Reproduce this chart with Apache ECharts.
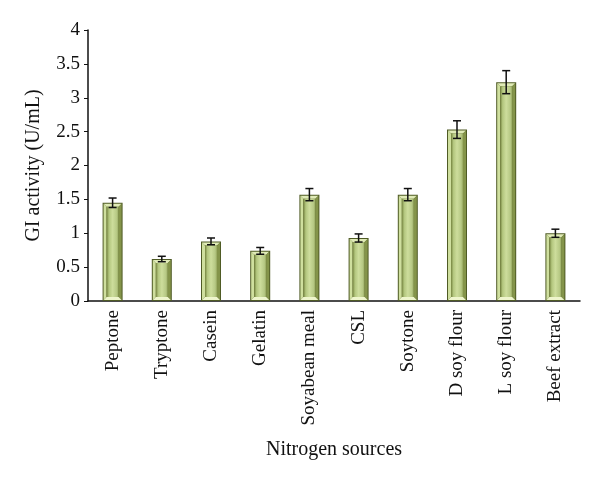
<!DOCTYPE html>
<html>
<head>
<meta charset="utf-8">
<script src="https://cdn.jsdelivr.net/npm/echarts@6/dist/echarts.min.js"></script>
<style>
  html, body { margin: 0; padding: 0; background: #fff; }
  #chart { width: 600px; height: 479px; }
</style>
</head>
<body>
<div id="chart"></div>
<script>
// categories on the x axis
var categories = [
  "Peptone", "Tryptone", "Casein", "Gelatin", "Soyabean meal",
  "CSL", "Soytone", "D soy flour", "L soy flour", "Beef extract"
];
// GI activity (U/mL)
var activity = [1.45, 0.62, 0.88, 0.74, 1.57, 0.93, 1.57, 2.53, 3.23, 1.00];
// error (+/-)
var errors = [0.07, 0.04, 0.05, 0.05, 0.09, 0.06, 0.09, 0.13, 0.17, 0.06];

var FONT = "Liberation Serif";

// bevelled bar drawn through the axes
function renderBar(params, api) {
  var top = api.coord([api.value(0), api.value(1)]);
  var base = api.coord([api.value(0), 0]);
  var w = 20, bv = 4;
  var l = top[0] - w / 2, r = top[0] + w / 2, t = top[1], b = base[1];
  var h = b - t;
  return {
    type: "group",
    children: [
      { type: "rect", shape: { x: l, y: t, width: w, height: h }, style: { fill: "#4f5b25" } },
      { type: "polygon", shape: { points: [[l + 1, t + 1], [l + bv, t + bv], [l + bv, b - bv], [l + 1, b - 1]] }, style: { fill: "#cfdf9e" } },
      { type: "polygon", shape: { points: [[l + 1, t + 1], [r - 1, t + 1], [r - bv, t + bv], [l + bv, t + bv]] }, style: { fill: "#e0ebb7" } },
      { type: "polygon", shape: { points: [[r - 1, t + 1], [r - 1, b - 1], [r - bv, b - bv], [r - bv, t + bv]] }, style: { fill: "#84944a" } },
      { type: "polygon", shape: { points: [[l + 1, b - 1], [r - 1, b - 1], [r - bv, b - bv], [l + bv, b - bv]] }, style: { fill: "#eef5cc" } },
      {
        type: "rect",
        shape: { x: l + bv, y: t + bv, width: w - 2 * bv, height: Math.max(h - 2 * bv, 0) },
        style: {
          fill: new echarts.graphic.LinearGradient(0, 0, 1, 0, [
            { offset: 0, color: "#75843f" },
            { offset: 0.2, color: "#b3c67e" },
            { offset: 0.5, color: "#cddd9c" },
            { offset: 0.85, color: "#b6c884" },
            { offset: 1, color: "#94a55c" }
          ])
        }
      }
    ]
  };
}

// error bars
function renderError(params, api) {
  var hi = api.coord([api.value(0), api.value(1) + api.value(2)]);
  var lo = api.coord([api.value(0), api.value(1) - api.value(2)]);
  var cap = 4;
  var st = { stroke: "#111", lineWidth: 1.5 };
  return {
    type: "group",
    children: [
      { type: "line", shape: { x1: hi[0], y1: hi[1], x2: lo[0], y2: lo[1] }, style: st },
      { type: "line", shape: { x1: hi[0] - cap, y1: hi[1], x2: hi[0] + cap, y2: hi[1] }, style: st },
      { type: "line", shape: { x1: lo[0] - cap, y1: lo[1], x2: lo[0] + cap, y2: lo[1] }, style: st }
    ]
  };
}

var barData = activity.map(function (v, i) { return [i, v]; });
var errData = activity.map(function (v, i) { return [i, v, errors[i]]; });

var chart = echarts.init(document.getElementById("chart"));
chart.setOption({
  animation: false,
  grid: { left: 88, right: 20, top: 30, bottom: 178 },
  xAxis: {
    type: "category",
    data: categories,
    name: "Nitrogen sources",
    nameLocation: "middle",
    nameGap: 139,
    nameTextStyle: { fontFamily: FONT, fontSize: 20, color: "#111" },
    axisLine: { show: true, lineStyle: { color: "#111", width: 1.5 } },
    axisTick: { show: false },
    axisLabel: { rotate: 90, margin: 9, fontFamily: FONT, fontSize: 19, color: "#111", interval: 0 }
  },
  yAxis: {
    type: "value",
    min: 0,
    max: 4,
    interval: 0.5,
    name: "GI activity (U/mL)",
    nameLocation: "middle",
    nameGap: 44,
    nameTextStyle: { fontFamily: FONT, fontSize: 20, color: "#111" },
    axisLine: { show: true, lineStyle: { color: "#111", width: 1.5 } },
    axisTick: { show: true, length: 4, lineStyle: { color: "#111" } },
    axisLabel: { fontFamily: FONT, fontSize: 19, color: "#111", margin: 8 },
    splitLine: { show: false }
  },
  series: [
    { type: "custom", renderItem: renderBar, data: barData, encode: { x: 0, y: 1 } },
    { type: "custom", renderItem: renderError, data: errData, encode: { x: 0, y: 1 }, z: 3 }
  ]
});
</script>
</body>
</html>
